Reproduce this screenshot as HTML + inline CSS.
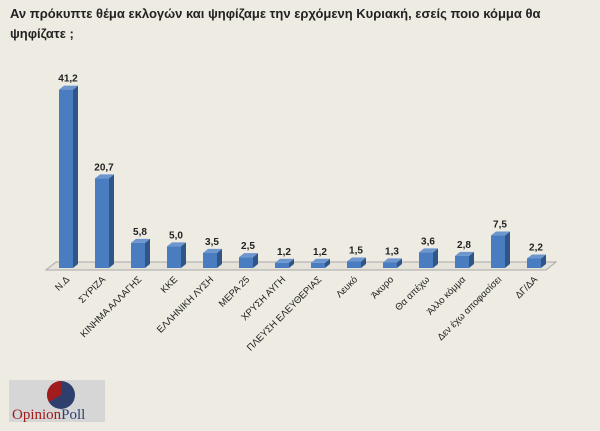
<!DOCTYPE html>
<html><head><meta charset="utf-8"><style>
body{margin:0;width:600px;height:431px;background:#eeebe2;overflow:hidden;font-family:"Liberation Sans",sans-serif;}
.t{position:absolute;left:10px;top:4px;width:560px;font-size:13px;font-weight:bold;color:#222;line-height:20px;}
</style></head><body>
<div class="t">Αν πρόκυπτε θέμα εκλογών και ψηφίζαμε την ερχόμενη Κυριακή, εσείς ποιο κόμμα θα ψηφίζατε ;</div>
<svg width="600" height="431" style="position:absolute;left:0;top:0" font-family="Liberation Sans, sans-serif">
<polygon points="46,270 546,270 556,262 56,262" fill="#e6e3db" stroke="#aaa" stroke-width="1"/>
<g id="bars"></g>
<g transform="translate(9,380)">
<rect x="0" y="0" width="96" height="42" fill="#d6d6d6"/>
<circle cx="52" cy="15" r="14" fill="#2e3f6e"/>
<path d="M52,15 L52,1 A14,14 0 0,0 40,22 Z" fill="#a11d1d"/>
<text x="3" y="39" font-size="15" font-family="Liberation Serif, serif" fill="#a11d1d">Opinion<tspan fill="#2e3f6e">Poll</tspan></text>
</g>
</svg>
<script>
var d=[["Ν.Δ",41.2],["ΣΥΡΙΖΑ",20.7],["ΚΙΝΗΜΑ ΑΛΛΑΓΗΣ",5.8],["ΚΚΕ",5.0],["ΕΛΛΗΝΙΚΗ ΛΥΣΗ",3.5],["ΜΕΡΑ 25",2.5],["ΧΡΥΣΗ ΑΥΓΗ",1.2],["ΠΛΕΥΣΗ ΕΛΕΥΘΕΡΙΑΣ",1.2],["Λευκό",1.5],["Άκυρο",1.3],["Θα απέχω",3.6],["Άλλο κόμμα",2.8],["Δεν έχω αποφασίσει",7.5],["ΔΓ/ΔΑ",2.2]];
var s="";
d.forEach(function(e,i){var x=59+36*i,b=268,h=e[1]*4.33,t=b-h;
s+='<polygon points="'+(x+14)+','+t+' '+(x+19)+','+(t-4)+' '+(x+19)+','+(b-4)+' '+(x+14)+','+b+'" fill="#2f5687"/>';
s+='<polygon points="'+x+','+t+' '+(x+5)+','+(t-4)+' '+(x+19)+','+(t-4)+' '+(x+14)+','+t+'" fill="#6d96cf"/>';
s+='<rect x="'+x+'" y="'+t+'" width="14" height="'+h+'" fill="#4a7cc0"/>';
s+='<text x="'+(x+9)+'" y="'+(t-8)+'" font-size="10" font-weight="bold" text-anchor="middle" fill="#222">'+e[1].toFixed(1).replace(".",",")+'</text>';
s+='<text transform="translate('+(x+11)+',280) rotate(-45)" font-size="9.5" text-anchor="end" fill="#222">'+e[0]+'</text>';});
document.getElementById("bars").innerHTML=s;
</script>
</body></html>
